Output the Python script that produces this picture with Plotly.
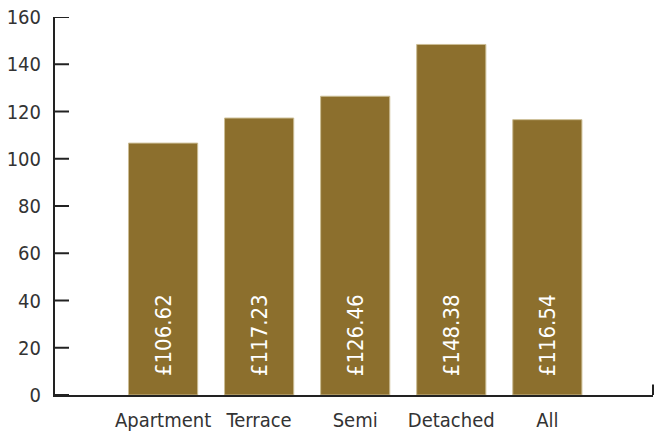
import plotly.graph_objects as go

# Average price per property type (£)
categories = ["Apartment", "Terrace", "Semi", "Detached", "All"]
values = [106.62, 117.23, 126.46, 148.38, 116.54]
y_ticks = [0, 20, 40, 60, 80, 100, 120, 140, 160]

FONT = "DejaVu Sans Condensed, Liberation Sans Narrow, sans-serif"
BAR = "#8c6f2d"
INK = "#222222"
PLOT_W = 665 - 55 - 12  # plot area width in px

fig = go.Figure()
fig.add_trace(go.Bar(
    x=categories,
    y=values,
    width=0.72,
    marker=dict(color=BAR, line=dict(color="#cbbd94", width=1)),
    hoverinfo="x+y",
))

# Value labels written vertically inside each bar, near its base
for cat, v in zip(categories, values):
    fig.add_annotation(
        x=cat, y=0, xref="x", yref="y",
        text=f"£{v:.2f}",
        textangle=-90,
        showarrow=False,
        xanchor="center", yanchor="bottom",
        yshift=17,
        font=dict(family=FONT, size=22, color="#ffffff"),
    )

# Inward tick marks on the value axis, one per tick value
for t in y_ticks:
    fig.add_shape(
        type="line", xref="paper", yref="y",
        x0=0, x1=14 / PLOT_W, y0=t, y1=t,
        line=dict(color=INK, width=2),
        layer="above",
    )

# Small upturned tick closing the right end of the baseline
fig.add_shape(
    type="line", xref="paper", yref="paper",
    x0=1, x1=1, y0=0, y1=0.028,
    line=dict(color=INK, width=2),
)

fig.update_layout(
    width=665, height=435,
    margin=dict(l=55, r=12, t=17, b=40),
    paper_bgcolor="white",
    plot_bgcolor="white",
    showlegend=False,
    font=dict(family=FONT, color="#333333"),
    xaxis=dict(
        range=[-1.125, 5.1],
        automargin=False,
        showline=True, linecolor=INK, linewidth=2,
        ticks="", showgrid=False, zeroline=False,
        tickfont=dict(family=FONT, size=20, color="#333333"),
        ticklabelstandoff=6,
    ),
    yaxis=dict(
        range=[0, 160],
        automargin=False,
        tickmode="array",
        tickvals=y_ticks,
        ticktext=[str(t) for t in y_ticks],
        showline=True, linecolor=INK, linewidth=2,
        ticks="", showgrid=False, zeroline=False,
        tickfont=dict(family=FONT, size=20, color="#333333"),
        ticklabelstandoff=8,
    ),
)

fig.write_html("out.html")
